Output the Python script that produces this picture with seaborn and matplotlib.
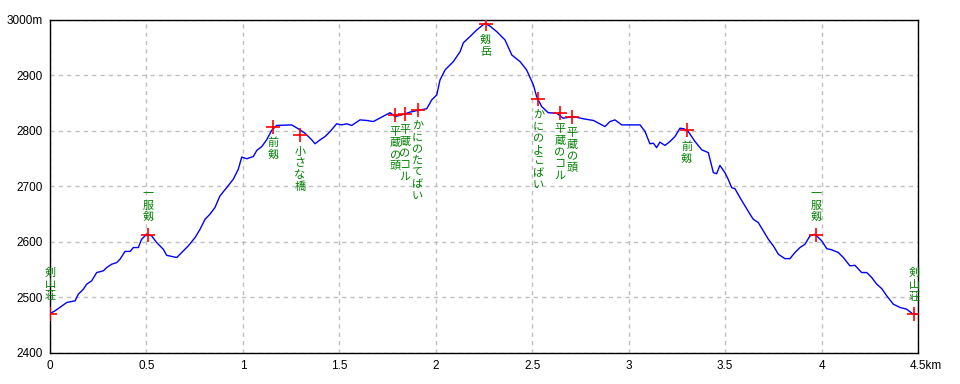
import matplotlib
matplotlib.use("Agg")
import matplotlib.pyplot as plt
import seaborn as sns
import pandas as pd

# ---- data ----
distance_km = [0.000, 0.026, 0.087, 0.130, 0.147, 0.173, 0.190, 0.216, 0.242, 0.276,
               0.294, 0.320, 0.346, 0.363, 0.389, 0.415, 0.432, 0.458, 0.475, 0.501,
               0.527, 0.553, 0.587, 0.605, 0.631, 0.657, 0.683, 0.717, 0.752, 0.778,
               0.804, 0.829, 0.855, 0.881, 0.916, 0.950, 0.976, 0.994, 1.020, 1.054,
               1.072, 1.098, 1.123, 1.149, 1.175, 1.253, 1.287, 1.322, 1.357, 1.374,
               1.400, 1.426, 1.452, 1.486, 1.512, 1.538, 1.564, 1.607, 1.642, 1.676,
               1.720, 1.763, 1.789, 1.823, 1.866, 1.918, 1.953, 1.979, 2.005, 2.022,
               2.048, 2.091, 2.126, 2.143, 2.177, 2.212, 2.255, 2.281, 2.316, 2.359,
               2.394, 2.437, 2.471, 2.506, 2.523, 2.549, 2.583, 2.627, 2.661, 2.713,
               2.765, 2.817, 2.877, 2.903, 2.929, 2.964, 3.007, 3.059, 3.085, 3.110,
               3.128, 3.145, 3.162, 3.188, 3.214, 3.240, 3.266, 3.287, 3.309, 3.344,
               3.379, 3.413, 3.439, 3.456, 3.473, 3.499, 3.516, 3.534, 3.551, 3.577,
               3.603, 3.629, 3.646, 3.672, 3.698, 3.724, 3.750, 3.776, 3.810, 3.836,
               3.862, 3.888, 3.914, 3.940, 3.966, 4.001, 4.027, 4.052, 4.087, 4.113,
               4.147, 4.173, 4.208, 4.234, 4.260, 4.286, 4.312, 4.338, 4.372, 4.407,
               4.441, 4.475, 4.500]
elevation_m = [2471, 2476, 2491, 2494, 2506, 2515, 2524, 2530, 2545, 2548,
               2554, 2560, 2563, 2569, 2583, 2583, 2590, 2590, 2605, 2614,
               2611, 2599, 2587, 2576, 2574, 2572, 2581, 2593, 2608, 2623,
               2641, 2650, 2662, 2683, 2698, 2713, 2731, 2753, 2750, 2754,
               2765, 2772, 2784, 2801, 2810, 2811, 2804, 2796, 2784, 2777,
               2784, 2790, 2799, 2813, 2811, 2813, 2810, 2820, 2819, 2817,
               2825, 2833, 2826, 2829, 2834, 2838, 2840, 2856, 2865, 2892,
               2910, 2925, 2943, 2959, 2970, 2982, 2994, 2989, 2979, 2964,
               2937, 2925, 2910, 2883, 2862, 2844, 2833, 2832, 2823, 2826,
               2822, 2819, 2808, 2817, 2820, 2811, 2811, 2811, 2799, 2777,
               2778, 2770, 2780, 2774, 2781, 2790, 2805, 2804, 2799, 2781,
               2766, 2761, 2725, 2723, 2738, 2725, 2713, 2698, 2696, 2680,
               2665, 2650, 2641, 2635, 2620, 2605, 2593, 2578, 2570, 2570,
               2581, 2590, 2596, 2611, 2614, 2602, 2588, 2586, 2581, 2572,
               2557, 2558, 2545, 2545, 2536, 2524, 2516, 2503, 2488, 2482,
               2479, 2470, 2470]

point_names = ["剣山荘", "一服剱", "前剱", "小さな橋", "平蔵の頭", "平蔵のコル",
               "かにのたてばい", "剱岳", "かにのよこばい", "平蔵のコル", "平蔵の頭",
               "前剱", "一服剱", "剣山荘"]
point_km = [0.000, 0.510, 1.158, 1.296, 1.789, 1.840, 1.906, 2.259, 2.532,
            2.644, 2.708, 3.301, 3.971, 4.481]
point_elev = [2471, 2613, 2808, 2792, 2828, 2831, 2838, 2993, 2858,
              2832, 2825, 2801, 2613, 2470]
labels_above = {"剣山荘", "一服剱"}

x_ticks = [0, 0.5, 1, 1.5, 2, 2.5, 3, 3.5, 4]
x_tick_labels = ["0", "0.5", "1", "1.5", "2", "2.5", "3", "3.5", "4"]
y_ticks = [2400, 2500, 2600, 2700, 2800, 2900, 3000]
y_tick_labels = ["2400", "2500", "2600", "2700", "2800", "2900", "3000m"]

# ---- style ----
sns.set_style("white")
plt.rcParams["font.family"] = ["Liberation Sans", "Noto Sans CJK JP", "DejaVu Sans"]

profile = pd.DataFrame({"km": distance_km, "elev": elevation_m})
points = pd.DataFrame({"km": point_km, "elev": point_elev, "name": point_names})

fig = plt.figure(figsize=(9.6, 3.84), dpi=100)
ax = fig.add_axes([50 / 960, 31 / 384, 868 / 960, 333 / 384])

ax.set_axisbelow(True)
ax.grid(True, color="#c0c0c0", linestyle=(0, (3, 3)), linewidth=1)

sns.lineplot(data=profile, x="km", y="elev", ax=ax, color="#0000ff",
             linewidth=1, sort=False, estimator=None, zorder=3)
sns.scatterplot(data=points, x="km", y="elev", ax=ax, marker="+", s=110,
                color="#ff0000", linewidth=1.2, zorder=4)

jp_font = ["Noto Sans CJK JP", "DejaVu Sans"]
for km, el, name in zip(point_km, point_elev, point_names):
    txt = "\n".join(list(name))
    if name in labels_above:
        ann = ax.annotate(txt, xy=(km, el), xytext=(0, 9), textcoords="offset points",
                          ha="center", va="bottom", color="#008000", fontsize=8,
                          family=jp_font, linespacing=1.2, zorder=5)
    else:
        ann = ax.annotate(txt, xy=(km, el), xytext=(0, -8), textcoords="offset points",
                          ha="center", va="top", color="#008000", fontsize=8,
                          family=jp_font, linespacing=1.2, zorder=5)
    if km >= distance_km[-1] - 0.05:
        ann.set_clip_on(True)

ax.set_xlim(0, 4.5)
ax.set_ylim(2400, 3000)
ax.set_xticks(x_ticks + [4.5])
ax.set_xticklabels(x_tick_labels + [""])
ax.set_yticks(y_ticks)
ax.set_yticklabels(y_tick_labels)
ax.tick_params(axis="both", length=0, labelsize=8.5, colors="black")
ax.tick_params(axis="x", pad=5)
ax.tick_params(axis="y", pad=5)
ax.annotate("4.5km", xy=(4.5, 0), xycoords=("data", "axes fraction"),
            xytext=(-6, -5), textcoords="offset points", ha="left", va="top",
            fontsize=8.5, color="black")
ax.set_xlabel("")
ax.set_ylabel("")
for sp in ax.spines.values():
    sp.set_visible(True)
    sp.set_color("black")
    sp.set_linewidth(1)

fig.savefig("out.png", dpi=100)
